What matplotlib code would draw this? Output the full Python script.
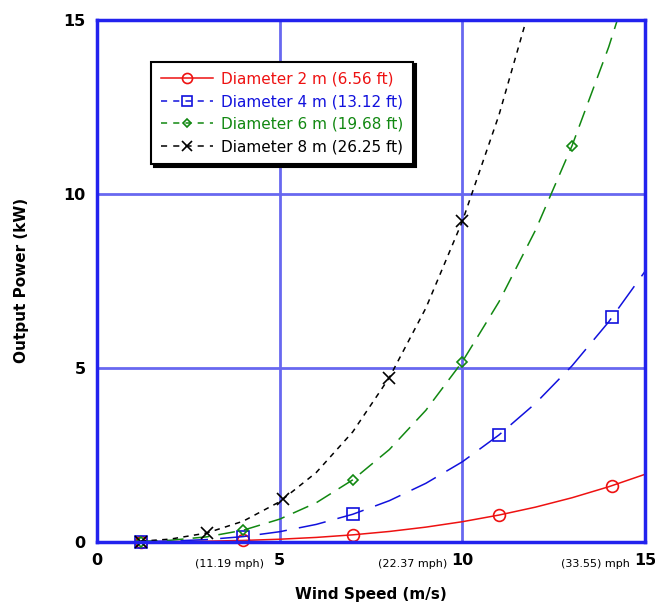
import matplotlib
matplotlib.use("Agg")
import matplotlib.pyplot as plt

# wind speed (m/s) for the curves
speed = [1.2, 2, 3, 4, 5, 6, 7, 8, 9, 10, 11, 12, 13, 14, 15]
p_d2 = [0.001, 0.005, 0.016, 0.037, 0.072, 0.124, 0.198, 0.295, 0.42, 0.576, 0.767, 0.995, 1.265, 1.58, 1.94]
p_d4 = [0.004, 0.018, 0.062, 0.147, 0.288, 0.498, 0.79, 1.18, 1.68, 2.30, 3.07, 3.98, 5.06, 6.32, 7.78]
p_d6 = [0.009, 0.041, 0.14, 0.33, 0.65, 1.12, 1.78, 2.65, 3.78, 5.18, 6.90, 8.96, 11.39, 14.22, 17.5]
p_d8 = [0.016, 0.074, 0.25, 0.59, 1.15, 1.99, 3.16, 4.72, 6.72, 9.22, 12.27, 15.93, 20.2, 25.3, 31.1]

# marker points
mk_d2_x = [1.2, 4.0, 7.0, 11.0, 14.1]
mk_d2_y = [0.0, 0.037, 0.198, 0.767, 1.61]
mk_d4_x = [1.2, 4.0, 7.0, 11.0, 14.1]
mk_d4_y = [0.0, 0.147, 0.79, 3.07, 6.45]
mk_d6_x = [1.2, 4.0, 7.0, 10.0, 13.0]
mk_d6_y = [0.0, 0.33, 1.78, 5.18, 11.39]
mk_d8_x = [1.2, 3.0, 5.1, 8.0, 10.0]
mk_d8_y = [0.0, 0.25, 1.22, 4.72, 9.22]

labels = ["Diameter 2 m (6.56 ft)", "Diameter 4 m (13.12 ft)",
          "Diameter 6 m (19.68 ft)", "Diameter 8 m (26.25 ft)"]
colors = ["#ee1111", "#1111dd", "#118811", "black"]

mph_labels = ["(11.19 mph)", "(22.37 mph)", "(33.55) mph"]
mph_pos = [5, 10, 15]

fig = plt.figure(figsize=(6.55, 6.08), dpi=100)
ax = fig.add_axes([0.148, 0.109, 0.837, 0.858])

grid_c = "#6868f0"
ax.set_xlim(0, 15)
ax.set_ylim(0, 15)
ax.set_xticks([0, 5, 10, 15])
ax.set_yticks([0, 5, 10, 15])
ax.grid(True, color=grid_c, linewidth=2)
ax.set_axisbelow(True)
for s in ax.spines.values():
    s.set_color("#2222ee")
    s.set_linewidth(2.5)
ax.tick_params(length=0, pad=8, labelsize=11.5)
for t in ax.get_xticklabels() + ax.get_yticklabels():
    t.set_fontweight("bold")

series = [(p_d2, mk_d2_x, mk_d2_y, "-", "o", 8.5),
          (p_d4, mk_d4_x, mk_d4_y, (0, (18, 8)), "s", 8),
          (p_d6, mk_d6_x, mk_d6_y, (0, (11, 6)), "D", 5),
          (p_d8, mk_d8_x, mk_d8_y, (0, (3.5, 3.5)), "x", 8)]

handles = []
for (yv, mx, my, ls, m, ms), lab, c in zip(series, labels, colors):
    ax.plot(speed, yv, color=c, linestyle=ls, linewidth=1.1, clip_on=True)
    ax.plot(mx, my, linestyle="none", marker=m, markersize=ms,
            markerfacecolor="none", markeredgecolor=c, markeredgewidth=1.2, clip_on=False)
    h, = ax.plot([], [], color=c, linestyle=ls if ls == "-" else (0, (4, 4)), linewidth=1.1,
                 marker=m, markersize=ms * 0.85,
                 markerfacecolor="none", markeredgecolor=c, markeredgewidth=1.2)
    handles.append(h)

leg = ax.legend(handles, labels, loc="upper left", bbox_to_anchor=(0.085, 0.935),
                fontsize=11, frameon=True, fancybox=False, handlelength=3.4,
                borderpad=0.65, labelspacing=0.5, handletextpad=0.5,
                shadow={"color": "black", "alpha": 1})
leg.get_frame().set_edgecolor("black")
leg.get_frame().set_linewidth(1.5)
for t, c in zip(leg.get_texts(), colors):
    t.set_color(c)

for p, lab in zip(mph_pos, mph_labels):
    ax.annotate(lab, xy=(p, 0), xytext=(-11, -18), textcoords="offset points",
                ha="right", va="baseline", fontsize=8)

ax.set_xlabel("Wind Speed (m/s)", fontsize=11, fontweight="bold", labelpad=14)
ax.set_ylabel("Output Power (kW)", fontsize=11, fontweight="bold", labelpad=25)

fig.savefig("out.png", dpi=100)
